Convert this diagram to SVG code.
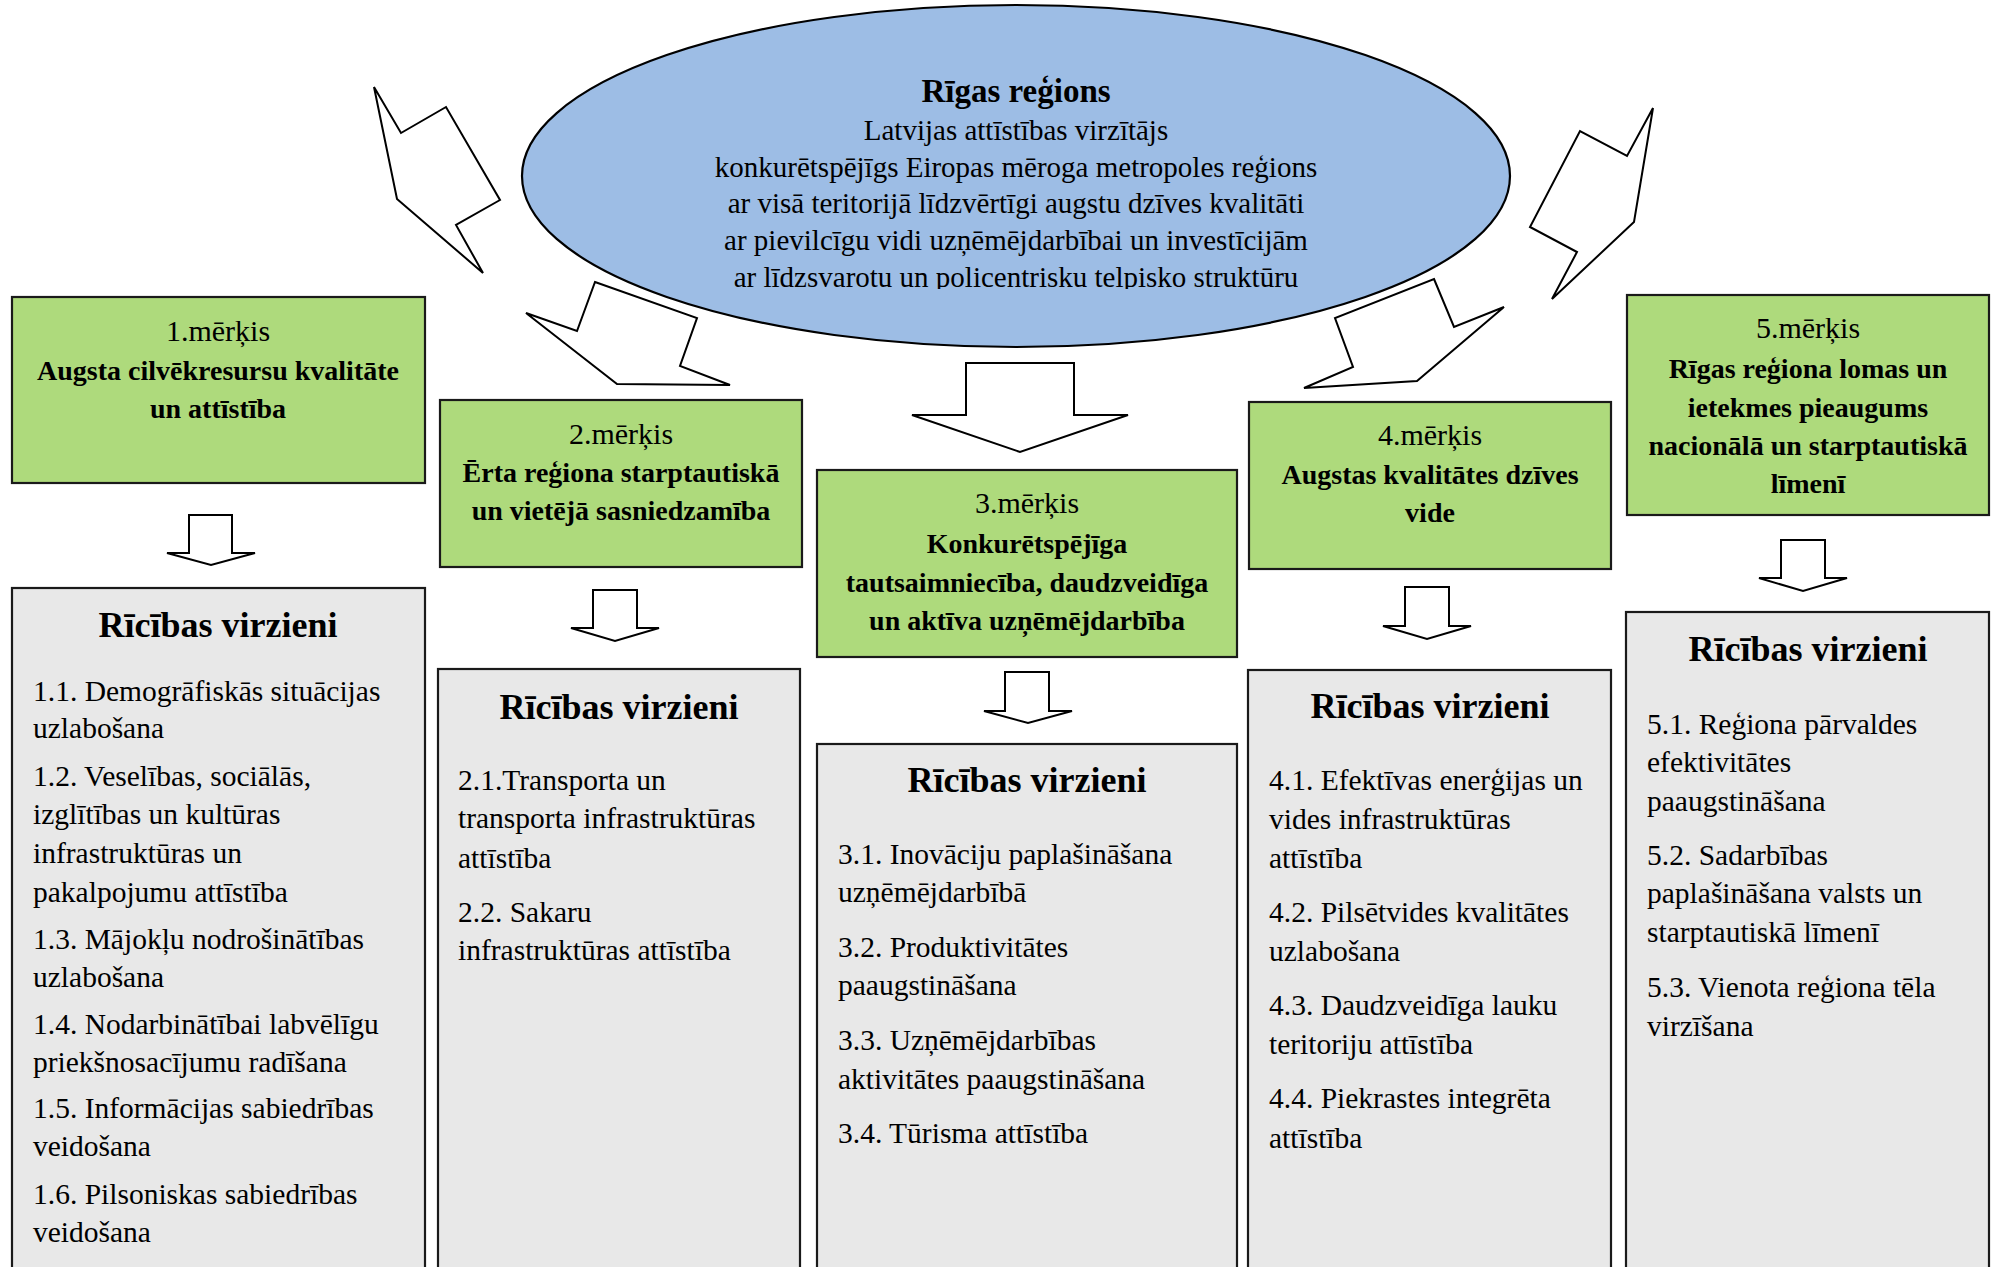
<svg xmlns="http://www.w3.org/2000/svg" width="1993" height="1267" viewBox="0 0 1993 1267">
<defs>
<style>
.bg{fill:#ffffff}
.goal{fill:#aeda7c;stroke:#1a1a1a;stroke-width:2.2}
.list{fill:#e8e8e8;stroke:#1a1a1a;stroke-width:2.2}
.ell{fill:#9dbde5;stroke:#000;stroke-width:2.2}
.arr{fill:#ffffff;stroke:#000;stroke-width:2;stroke-linejoin:miter}
text{font-family:"Liberation Serif","Times New Roman",serif;fill:#000}
.title{font-size:33px;font-weight:bold;text-anchor:middle}
.etxt{font-size:29px;text-anchor:middle}
.gnum{font-size:30px;text-anchor:middle}
.gtxt{font-size:28px;font-weight:bold;text-anchor:middle}
.head{font-size:36px;font-weight:bold;text-anchor:middle}
.item{font-size:29.5px}
</style>
<clipPath id="ellclip"><rect x="0" y="0" width="1993" height="289"/></clipPath>
</defs>
<rect class="bg" x="0" y="0" width="1993" height="1267"/>

<g id="center">
<ellipse class="ell" cx="1016" cy="176" rx="494" ry="171"/>
<g clip-path="url(#ellclip)">
<text class="title" x="1016" y="102">Rīgas reģions</text>
<text class="etxt" x="1016" y="140">Latvijas attīstības virzītājs</text>
<text class="etxt" x="1016" y="177">konkurētspējīgs Eiropas mēroga metropoles reģions</text>
<text class="etxt" x="1016" y="213">ar visā teritorijā līdzvērtīgi augstu dzīves kvalitāti</text>
<text class="etxt" x="1016" y="250">ar pievilcīgu vidi uzņēmējdarbībai un investīcijām</text>
<text class="etxt" x="1016" y="287">ar līdzsvarotu un policentrisku telpisko struktūru</text>
</g>
</g>

<g id="connectors">
<polygon class="arr" points="374,87 401,133 446,107 500,200 456,225 483,273 397,199"/>
<polygon class="arr" points="1653,108 1627,156 1580,131 1530,227 1577,252 1552,299 1634,222"/>
<polygon class="arr" points="595,282 697,318 680,366 730,385 617,384 526,313 577,331"/>
<polygon class="arr" points="1434,279 1454,327 1504,307 1417,381 1304,388 1353,367 1335,318"/>
<polygon class="arr" points="966,363 1074,363 1074,415 1128,415 1020,452 912,415 966,415"/>
<polygon class="arr" points="189,515 232,515 232,553 255,553 211,565 167,553 189,553"/>
<polygon class="arr" points="593,590 637,590 637,628 659,628 615,641 571,628 593,628"/>
<polygon class="arr" points="1005,672 1049,672 1049,711 1072,711 1028,723 984,711 1005,711"/>
<polygon class="arr" points="1405,587 1449,587 1449,626 1471,626 1427,639 1383,626 1405,626"/>
<polygon class="arr" points="1781,540 1825,540 1825,578 1847,578 1803,591 1759,578 1781,578"/>
</g>

<g id="goal1">
<rect class="goal" x="12" y="297" width="413" height="186"/>
<text class="gnum" x="218" y="341">1.mērķis</text>
<text class="gtxt" x="218" y="380">Augsta cilvēkresursu kvalitāte</text>
<text class="gtxt" x="218" y="418">un attīstība</text>
</g>
<g id="goal2">
<rect class="goal" x="440" y="400" width="362" height="167"/>
<text class="gnum" x="621" y="444">2.mērķis</text>
<text class="gtxt" x="621" y="482">Ērta reģiona starptautiskā</text>
<text class="gtxt" x="621" y="520">un vietējā sasniedzamība</text>
</g>
<g id="goal3">
<rect class="goal" x="817" y="470" width="420" height="187"/>
<text class="gnum" x="1027" y="513">3.mērķis</text>
<text class="gtxt" x="1027" y="553">Konkurētspējīga</text>
<text class="gtxt" x="1027" y="592">tautsaimniecība, daudzveidīga</text>
<text class="gtxt" x="1027" y="630">un aktīva uzņēmējdarbība</text>
</g>
<g id="goal4">
<rect class="goal" x="1249" y="402" width="362" height="167"/>
<text class="gnum" x="1430" y="445">4.mērķis</text>
<text class="gtxt" x="1430" y="484">Augstas kvalitātes dzīves</text>
<text class="gtxt" x="1430" y="522">vide</text>
</g>
<g id="goal5">
<rect class="goal" x="1627" y="295" width="362" height="220"/>
<text class="gnum" x="1808" y="338">5.mērķis</text>
<text class="gtxt" x="1808" y="378">Rīgas reģiona lomas un</text>
<text class="gtxt" x="1808" y="417">ietekmes pieaugums</text>
<text class="gtxt" x="1808" y="455">nacionālā un starptautiskā</text>
<text class="gtxt" x="1808" y="493">līmenī</text>
</g>

<g id="actions1">
<rect class="list" x="12" y="588" width="413" height="700"/>
<text class="head" x="218" y="637">Rīcības virzieni</text>
<text class="item" x="33" y="701">1.1. Demogrāfiskās situācijas</text>
<text class="item" x="33" y="738">uzlabošana</text>
<text class="item" x="33" y="786">1.2. Veselības, sociālās,</text>
<text class="item" x="33" y="824">izglītības un kultūras</text>
<text class="item" x="33" y="863">infrastruktūras un</text>
<text class="item" x="33" y="902">pakalpojumu attīstība</text>
<text class="item" x="33" y="949">1.3. Mājokļu nodrošinātības</text>
<text class="item" x="33" y="987">uzlabošana</text>
<text class="item" x="33" y="1034">1.4. Nodarbinātībai labvēlīgu</text>
<text class="item" x="33" y="1072">priekšnosacījumu radīšana</text>
<text class="item" x="33" y="1118">1.5. Informācijas sabiedrības</text>
<text class="item" x="33" y="1156">veidošana</text>
<text class="item" x="33" y="1204">1.6. Pilsoniskas sabiedrības</text>
<text class="item" x="33" y="1242">veidošana</text>
</g>
<g id="actions2">
<rect class="list" x="438" y="669" width="362" height="620"/>
<text class="head" x="619" y="719">Rīcības virzieni</text>
<text class="item" x="458" y="790">2.1.Transporta un</text>
<text class="item" x="458" y="828">transporta infrastruktūras</text>
<text class="item" x="458" y="868">attīstība</text>
<text class="item" x="458" y="922">2.2. Sakaru</text>
<text class="item" x="458" y="960">infrastruktūras attīstība</text>
</g>
<g id="actions3">
<rect class="list" x="817" y="744" width="420" height="545"/>
<text class="head" x="1027" y="792">Rīcības virzieni</text>
<text class="item" x="838" y="864">3.1. Inovāciju paplašināšana</text>
<text class="item" x="838" y="902">uzņēmējdarbībā</text>
<text class="item" x="838" y="957">3.2. Produktivitātes</text>
<text class="item" x="838" y="995">paaugstināšana</text>
<text class="item" x="838" y="1050">3.3. Uzņēmējdarbības</text>
<text class="item" x="838" y="1089">aktivitātes paaugstināšana</text>
<text class="item" x="838" y="1143">3.4. Tūrisma attīstība</text>
</g>
<g id="actions4">
<rect class="list" x="1248" y="670" width="363" height="620"/>
<text class="head" x="1430" y="718">Rīcības virzieni</text>
<text class="item" x="1269" y="790">4.1. Efektīvas enerģijas un</text>
<text class="item" x="1269" y="829">vides infrastruktūras</text>
<text class="item" x="1269" y="868">attīstība</text>
<text class="item" x="1269" y="922">4.2. Pilsētvides kvalitātes</text>
<text class="item" x="1269" y="961">uzlabošana</text>
<text class="item" x="1269" y="1015">4.3. Daudzveidīga lauku</text>
<text class="item" x="1269" y="1054">teritoriju attīstība</text>
<text class="item" x="1269" y="1108">4.4. Piekrastes integrēta</text>
<text class="item" x="1269" y="1148">attīstība</text>
</g>
<g id="actions5">
<rect class="list" x="1626" y="612" width="363" height="680"/>
<text class="head" x="1808" y="661">Rīcības virzieni</text>
<text class="item" x="1647" y="734">5.1. Reģiona pārvaldes</text>
<text class="item" x="1647" y="772">efektivitātes</text>
<text class="item" x="1647" y="811">paaugstināšana</text>
<text class="item" x="1647" y="865">5.2. Sadarbības</text>
<text class="item" x="1647" y="903">paplašināšana valsts un</text>
<text class="item" x="1647" y="942">starptautiskā līmenī</text>
<text class="item" x="1647" y="997">5.3. Vienota reģiona tēla</text>
<text class="item" x="1647" y="1036">virzīšana</text>
</g>
</svg>
